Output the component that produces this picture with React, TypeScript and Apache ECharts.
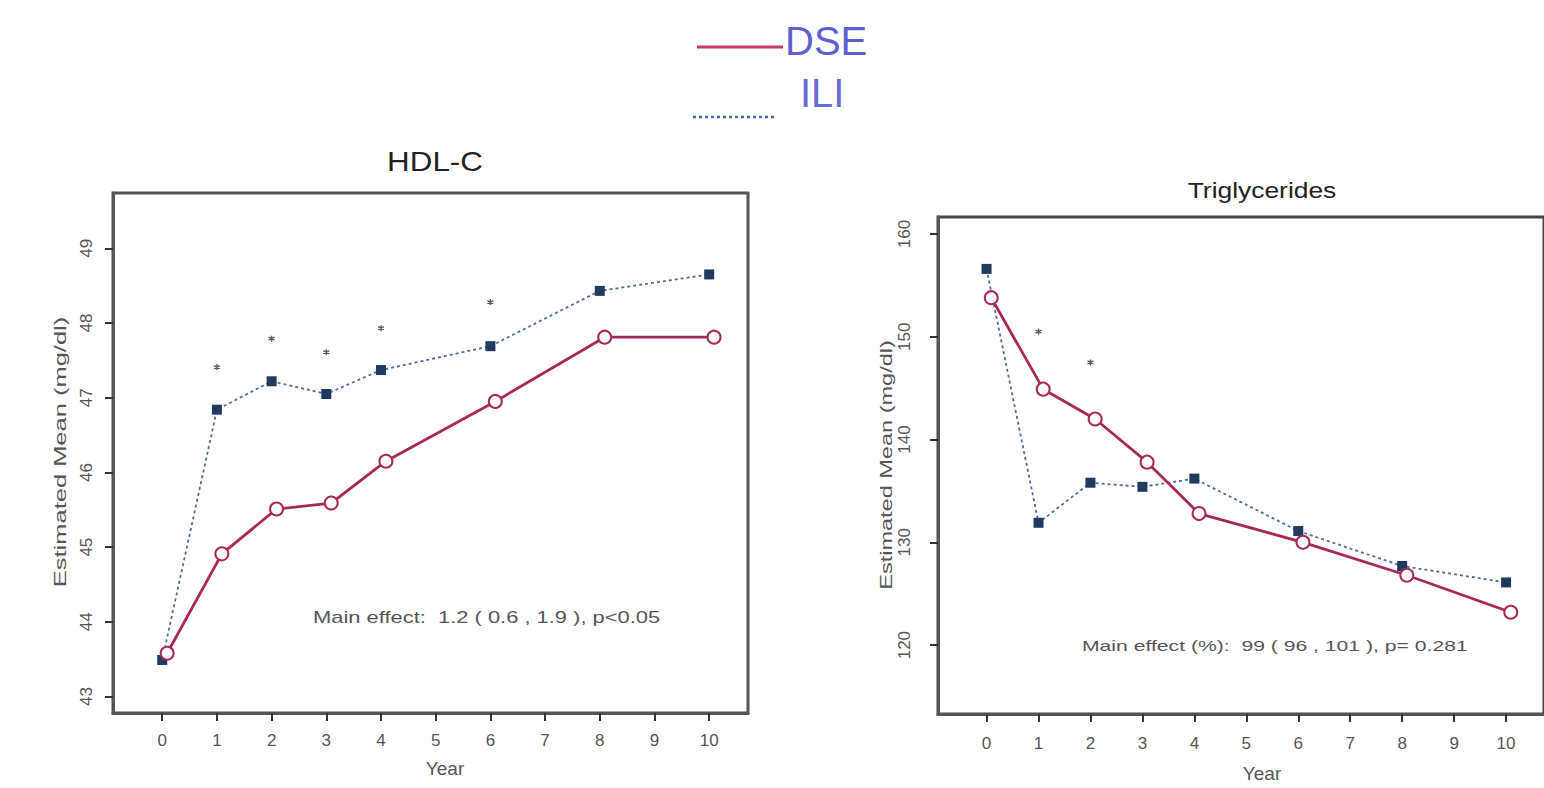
import React, { useEffect, useRef } from "react";
import * as echarts from "echarts";

const years = [0, 1, 2, 3, 4, 6, 8, 10];
const xTicks = [0, 1, 2, 3, 4, 5, 6, 7, 8, 9, 10];

const hdlDSE = [43.58, 44.91, 45.51, 45.59, 46.15, 46.95, 47.81, 47.81];
const hdlILI = [43.49, 46.84, 47.22, 47.05, 47.37, 47.69, 48.43, 48.65];
const hdlStarYears = [1, 2, 3, 4, 6];
const hdlStars = [47.41, 47.79, 47.61, 47.93, 48.28];
const hdlTicks = [43, 44, 45, 46, 47, 48, 49];

const tgDSE = [153.8, 144.9, 142.0, 137.8, 132.8, 130.0, 126.8, 123.2];
const tgILI = [156.6, 131.9, 135.8, 135.4, 136.2, 131.1, 127.7, 126.1];
const tgStarYears = [1, 2];
const tgStars = [150.5, 147.5];
const tgTicks = [120, 130, 140, 150, 160];

const DSE_DODGE = 0.09;
const FONT = "Liberation Sans, Arial, sans-serif";
const DSE_COLOR = "#a8285a";
const ILI_LINE = "#4f6f92";
const ILI_MARK = "#1f3c5e";
const ASTERISK = "path://M5,0 L5,10 M0.7,2.5 L9.3,7.5 M0.7,7.5 L9.3,2.5";

export default function App() {
  const ref = useRef<HTMLDivElement>(null);
  useEffect(() => {
    if (!ref.current) return;
    const chart = echarts.init(ref.current, null, { renderer: "svg" });

    const xAxisBase = (gi: number, min: number, max: number, margin: number) => ({
      type: "value",
      gridIndex: gi,
      min,
      max,
      axisLine: { show: true, onZero: false, lineStyle: { color: "#555", width: 3 } },
      axisTick: { show: true, customValues: xTicks, length: 8, lineStyle: { color: "#333", width: 2 } },
      axisLabel: { customValues: xTicks, margin, fontFamily: FONT, fontSize: 17, color: "#555" },
      splitLine: { show: false },
    });
    const yAxisBase = (gi: number, min: number, max: number, ticks: number[], margin: number) => ({
      type: "value",
      gridIndex: gi,
      min,
      max,
      axisLine: { show: true, onZero: false, lineStyle: { color: "#555", width: 3 } },
      axisTick: { show: true, customValues: ticks, length: 8, lineStyle: { color: "#333", width: 2 } },
      axisLabel: { customValues: ticks, rotate: 90, margin, fontFamily: FONT, fontSize: 17, color: "#555" },
      splitLine: { show: false },
    });

    const dseSeries = (gi: number, vals: number[]) => ({
      type: "line",
      xAxisIndex: gi,
      yAxisIndex: gi,
      data: years.map((y, i) => [y + DSE_DODGE, vals[i]]),
      symbol: "circle",
      symbolSize: 13,
      showSymbol: true,
      itemStyle: { color: "#fff", borderColor: DSE_COLOR, borderWidth: 2 },
      lineStyle: { color: DSE_COLOR, width: 2.8 },
      z: 3,
    });
    const iliSeries = (gi: number, vals: number[]) => ({
      type: "line",
      xAxisIndex: gi,
      yAxisIndex: gi,
      data: years.map((y, i) => [y, vals[i]]),
      symbol: "rect",
      symbolSize: 10,
      itemStyle: { color: ILI_MARK },
      lineStyle: { color: ILI_LINE, width: 1.8, type: [3, 3] },
      z: 2,
    });
    const starSeries = (gi: number, xs: number[], vals: number[]) => ({
      type: "scatter",
      xAxisIndex: gi,
      yAxisIndex: gi,
      data: xs.map((x, i) => [x, vals[i]]),
      symbol: ASTERISK,
      symbolSize: 6,
      itemStyle: { color: "none", borderColor: "#333", borderWidth: 1.4 },
      z: 4,
    });

    const txt = (text: string, x: number, y: number, font: string, fill: string, align: string, extra: any = {}) => ({
      type: "text",
      x,
      y,
      ...extra,
      style: { text, fill, font, textAlign: align, textVerticalAlign: "middle" },
    });

    chart.setOption({
      animation: false,
      backgroundColor: "#fff",
      grid: [
        { left: 113, top: 193, width: 635, height: 520, show: true, borderColor: "#555", borderWidth: 3, backgroundColor: "transparent" },
        { left: 938, top: 217, width: 611, height: 497, show: true, borderColor: "#444", borderWidth: 3, backgroundColor: "transparent" },
      ],
      xAxis: [xAxisBase(0, -0.9, 10.71, 19), xAxisBase(1, -0.935, 10.73, 21)],
      yAxis: [
        yAxisBase(0, 42.78, 49.74, hdlTicks, 18),
        yAxisBase(1, 113.3, 161.65, tgTicks, 25),
      ],
      series: [
        iliSeries(0, hdlILI),
        dseSeries(0, hdlDSE),
        starSeries(0, hdlStarYears, hdlStars),
        iliSeries(1, tgILI),
        dseSeries(1, tgDSE),
        starSeries(1, tgStarYears, tgStars),
      ],
      graphic: [
        txt("HDL-C", 435, 161, `28px ${FONT}`, "#222", "center", { scaleX: 1.12 }),
        txt("Triglycerides", 1262, 190, `22px ${FONT}`, "#222", "center", { scaleX: 1.2 }),
        txt("Main effect:  1.2 ( 0.6 , 1.9 ), p<0.05", 313, 618, `16px ${FONT}`, "#555", "left", { scaleX: 1.37 }),
        txt("Main effect (%):  99 ( 96 , 101 ), p= 0.281", 1082, 646, `15px ${FONT}`, "#555", "left", { scaleX: 1.41 }),
        txt("Estimated Mean (mg/dl)", 60, 452, `17px ${FONT}`, "#555", "center", { rotation: Math.PI / 2, scaleX: 1.5 }),
        txt("Estimated Mean (mg/dl)", 886, 465, `16px ${FONT}`, "#555", "center", { rotation: Math.PI / 2, scaleX: 1.47 }),
        txt("Year", 445, 768, `19px ${FONT}`, "#555", "center"),
        txt("Year", 1262, 773, `19px ${FONT}`, "#555", "center"),
        { type: "line", shape: { x1: 697, y1: 47, x2: 783, y2: 47 }, style: { stroke: "#c8386a", lineWidth: 3 } },
        txt("DSE", 785, 41, `40px ${FONT}`, "#5f5fd2", "left"),
        txt("ILI", 800, 93, `40px ${FONT}`, "#6a6ad6", "left"),
        { type: "line", shape: { x1: 693, y1: 117, x2: 775, y2: 117 }, style: { stroke: "#3a6ea5", lineWidth: 2.5, lineDash: [3, 3] } },
      ],
    });
    return () => chart.dispose();
  }, []);
  return <div ref={ref} style={{ position: "fixed", left: 0, top: 0, width: 1544, height: 788 }} />;
}
